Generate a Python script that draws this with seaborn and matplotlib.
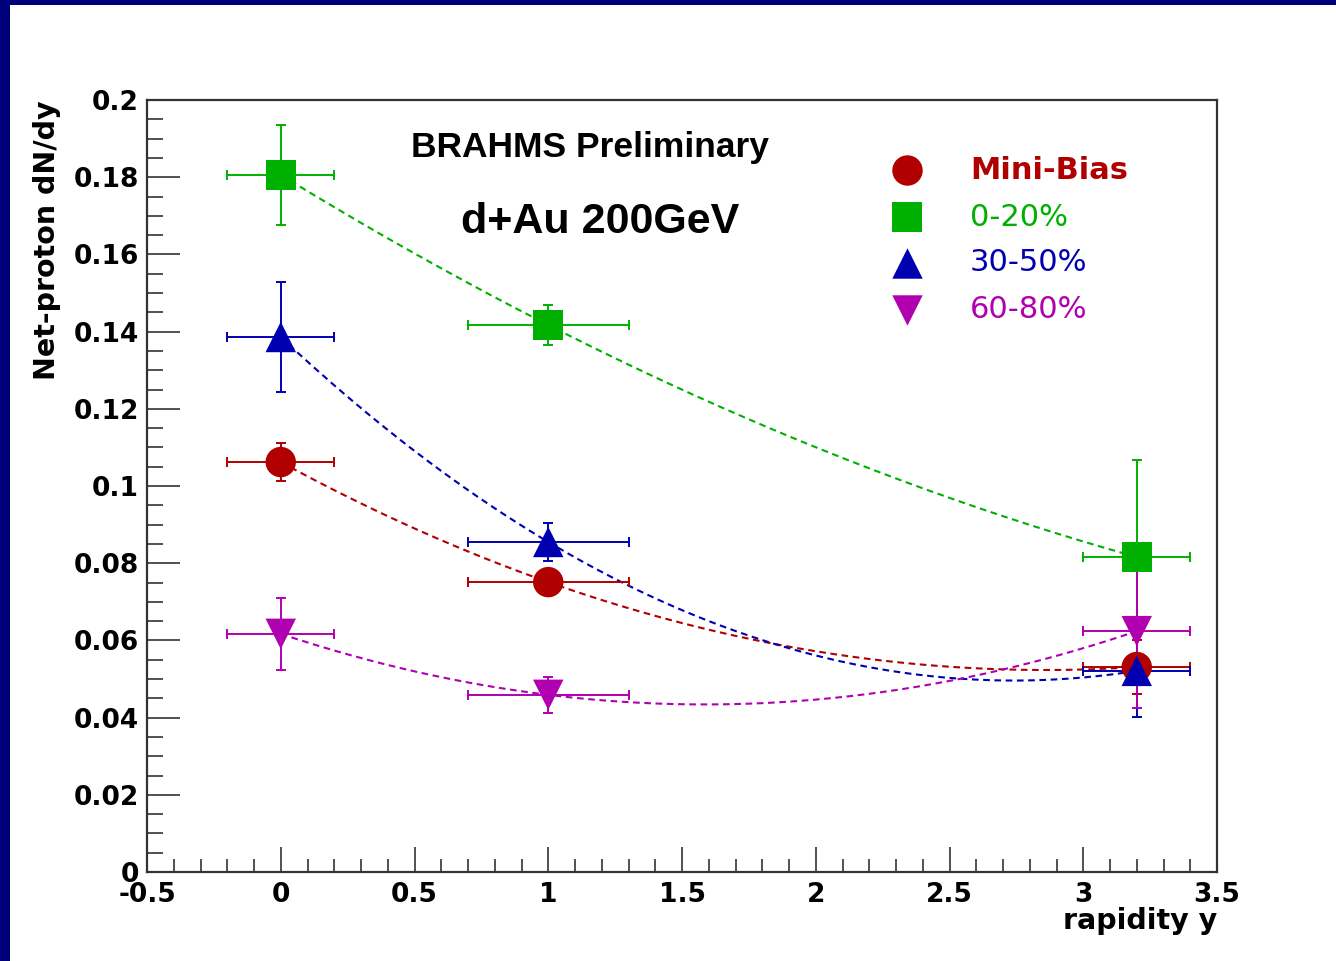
import numpy as np
import pandas as pd
import matplotlib
matplotlib.use("Agg")
import matplotlib.pyplot as plt
from matplotlib.patches import Rectangle
from matplotlib.ticker import MultipleLocator, FuncFormatter
import seaborn as sns

# ---- data -----------------------------------------------------------------
rapidity = [0.0, 1.0, 3.2]
rapidity_halfwidth = [0.2, 0.3, 0.2]

series_names = ["Mini-Bias", "0-20%", "30-50%", "60-80%"]
series_colors = ["#b00000", "#00b000", "#0000b0", "#b000b0"]
series_markers = ["o", "s", "^", "v"]

minbias = [0.1062, 0.0751, 0.0531]
minbias_err = [0.0050, 0.0030, 0.0070]
cent_0_20 = [0.1806, 0.1417, 0.0816]
cent_0_20_err = [0.0130, 0.0052, 0.0251]
cent_30_50 = [0.1386, 0.0855, 0.0521]
cent_30_50_err = [0.0143, 0.0050, 0.0119]
cent_60_80 = [0.0617, 0.0459, 0.0624]
cent_60_80_err = [0.0093, 0.0047, 0.0200]

values = [minbias, cent_0_20, cent_30_50, cent_60_80]
errors = [minbias_err, cent_0_20_err, cent_30_50_err, cent_60_80_err]

x_ticks_major = 0.5
y_ticks_major = 0.02

# ---- style ------------------------------------------------------------------
sns.set_style("ticks")
plt.rcParams["font.family"] = ["DejaVu Sans"]
plt.rcParams["font.weight"] = "bold"
plt.rcParams["text.color"] = "black"
plt.rcParams["axes.labelcolor"] = "black"
HELV = ["Liberation Sans", "DejaVu Sans"]

W, H = 1336, 961
fig = plt.figure(figsize=(W / 100, H / 100), dpi=100, facecolor="#00007a")
fig.patches.append(Rectangle((10 / W, 0), 1 - 10 / W, (H - 5) / H,
                             transform=fig.transFigure, facecolor="white",
                             edgecolor="none", zorder=-5))

ax = fig.add_axes([147 / W, 1 - 872 / H, 1070 / W, 772 / H])
ax.set_zorder(1)
ax.set_facecolor("white")

rows = []
for name, vals, errs in zip(series_names, values, errors):
    for x, xe, y, ye in zip(rapidity, rapidity_halfwidth, vals, errs):
        rows.append({"series": name, "rapidity": x, "xerr": xe, "dndy": y, "yerr": ye})
df = pd.DataFrame(rows)

dash = (0, (3.2, 2.2))
for name, color in zip(series_names, series_colors):
    sub = df[df["series"] == name]
    # quadratic through the three rapidity points, drawn as a dashed guide
    coef = np.polyfit(sub["rapidity"], sub["dndy"], 2)
    xs = np.linspace(sub["rapidity"].min(), sub["rapidity"].max(), 200)
    sns.lineplot(x=xs, y=np.polyval(coef, xs), color=color, ax=ax,
                 linewidth=1.5, linestyle=dash, zorder=2)
    ax.errorbar(sub["rapidity"], sub["dndy"], xerr=sub["xerr"], yerr=sub["yerr"],
                fmt="none", ecolor=color, elinewidth=1.4, capsize=3.5,
                capthick=1.4, zorder=3)

sns.scatterplot(data=df, x="rapidity", y="dndy", hue="series", style="series",
                hue_order=series_names, style_order=series_names,
                palette=dict(zip(series_names, series_colors)),
                markers=dict(zip(series_names, series_markers)),
                s=480, linewidth=0, ax=ax, legend=False, zorder=4)

# ---- axes -----------------------------------------------------------------
ax.set_xlim(-0.5, 3.5)
ax.set_ylim(0, 0.2)
ax.xaxis.set_major_locator(MultipleLocator(x_ticks_major))
ax.xaxis.set_minor_locator(MultipleLocator(x_ticks_major / 5))
ax.yaxis.set_major_locator(MultipleLocator(y_ticks_major))
ax.yaxis.set_minor_locator(MultipleLocator(y_ticks_major / 4))
fmt = FuncFormatter(lambda v, p: f"{v:g}")
ax.xaxis.set_major_formatter(fmt)
ax.yaxis.set_major_formatter(fmt)

frame_col = "#333333"
for s in ax.spines.values():
    s.set_color(frame_col)
    s.set_linewidth(1.6)
ax.tick_params(axis="both", which="both", direction="in", color=frame_col,
               width=1.2, top=False, right=False, labelsize=19,
               labelcolor="black")
ax.tick_params(axis="y", which="major", length=24, pad=6)
ax.tick_params(axis="y", which="minor", length=11.5)
ax.tick_params(axis="x", which="major", length=18, pad=7)
ax.tick_params(axis="x", which="minor", length=9.5)
for lab in ax.get_xticklabels() + ax.get_yticklabels():
    lab.set_fontweight("bold")

ax.set_xlabel("rapidity y", fontsize=20.5, fontweight="bold", ha="right")
ax.xaxis.set_label_coords(1.0, -0.045)
ax.set_ylabel("Net-proton dN/dy", fontsize=20.5, fontweight="bold", ha="right")
ax.yaxis.set_label_coords(-0.08, 1.0)

ax.text(0.414, 0.939, "BRAHMS Preliminary", transform=ax.transAxes,
        ha="center", va="center", fontsize=25.5, fontweight="bold", family=HELV)
ax.text(0.4234, 0.842, "d+Au 200GeV", transform=ax.transAxes,
        ha="center", va="center", fontsize=31, fontweight="bold", family=HELV)

# legend block
leg_y = [0.9093, 0.8484, 0.7889, 0.7280]
for name, color, mk, yy in zip(series_names, series_colors, series_markers, leg_y):
    ax.scatter([0.7103], [yy], s=480, marker=mk, color=color, linewidth=0,
               transform=ax.transAxes, clip_on=False, zorder=5)
    ax.text(0.7692, yy, name, transform=ax.transAxes, ha="left", va="center",
            fontsize=22, color=color,
            fontweight="bold" if name == "Mini-Bias" else "normal")

fig.savefig("out.png", dpi=100, facecolor=fig.get_facecolor())
